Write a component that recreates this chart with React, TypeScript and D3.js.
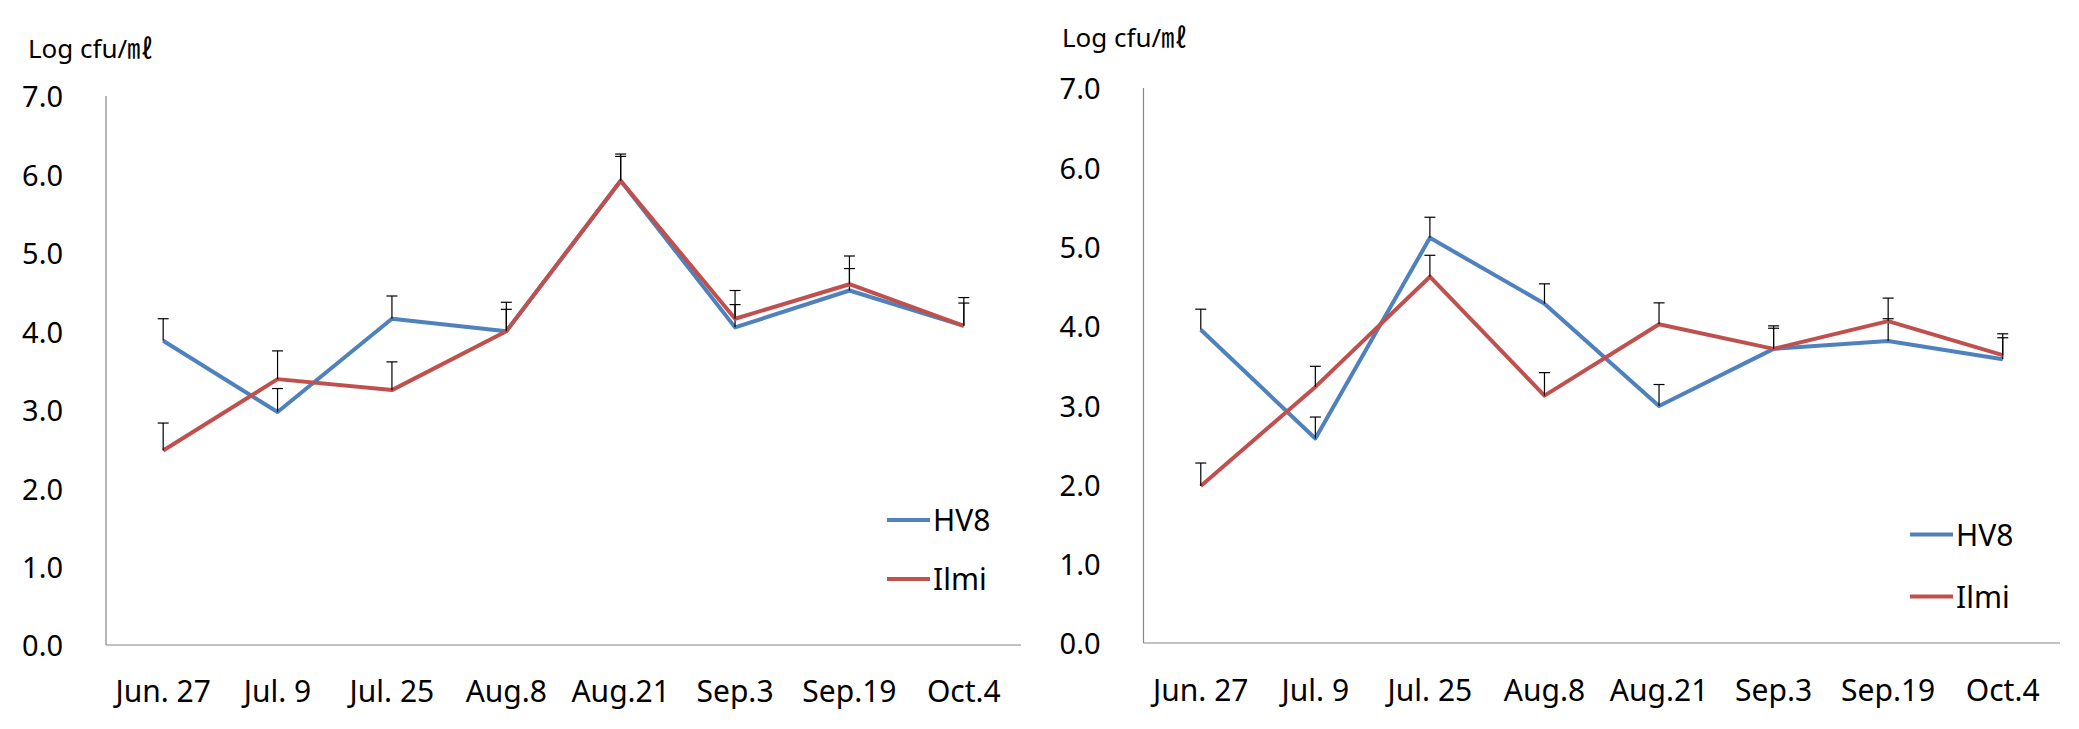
import React from "react";
import * as d3 from "d3";

const categories = ["Jun. 27", "Jul. 9", "Jul. 25", "Aug.8", "Aug.21", "Sep.3", "Sep.19", "Oct.4"];
const yTicks = [0, 1, 2, 3, 4, 5, 6, 7];
const seriesNames = ["HV8", "Ilmi"];
const seriesColors = ["#4F81BD", "#C0504D"];

// Left panel
const hv8Left = [3.88, 2.97, 4.16, 4.0, 5.92, 4.05, 4.52, 4.07];
const hv8LeftErr = [0.28, 0.3, 0.29, 0.37, 0.34, 0.29, 0.28, 0.36];
const ilmiLeft = [2.48, 3.39, 3.25, 4.0, 5.92, 4.16, 4.6, 4.07];
const ilmiLeftErr = [0.35, 0.36, 0.36, 0.28, 0.31, 0.36, 0.36, 0.29];

// Right panel
const hv8Right = [3.95, 2.58, 5.11, 4.28, 2.99, 3.71, 3.81, 3.58];
const hv8RightErr = [0.26, 0.27, 0.26, 0.25, 0.27, 0.29, 0.28, 0.27];
const ilmiRight = [1.98, 3.23, 4.62, 3.12, 4.02, 3.71, 4.06, 3.63];
const ilmiRightErr = [0.29, 0.26, 0.27, 0.29, 0.27, 0.26, 0.29, 0.27];

const FONT = "'Noto Sans', 'Noto Sans CJK KR', sans-serif";

type Layout = {
  x0: number; x1: number; yTop: number; yBottom: number;
  titleX: number; titleY: number; labelBaseline: number;
  legX: number; legY: number[];
};

function Panel({ layout, values, errs }: { layout: Layout; values: number[][]; errs: number[][] }) {
  const x = d3.scalePoint<string>().domain(categories).range([layout.x0, layout.x1]).padding(0.5);
  const y = d3.scaleLinear().domain([0, 7]).range([layout.yBottom, layout.yTop]);
  const line = d3
    .line<number>()
    .x((_, i) => x(categories[i]) as number)
    .y((d) => y(d));
  return (
    <g>
      <text x={layout.titleX} y={layout.titleY} fontSize={26} fontFamily={FONT} fill="#000">
        Log cfu/㎖
      </text>
      {yTicks.map((t) => (
        <text
          key={t}
          x={layout.x0 - 43}
          y={y(t) + 1}
          dy="0.36em"
          textAnchor="end"
          fontSize={29}
          fontFamily={FONT}
          fill="#000"
        >
          {t.toFixed(1)}
        </text>
      ))}
      <line x1={layout.x0} x2={layout.x0} y1={layout.yTop} y2={layout.yBottom} stroke="#868686" strokeWidth={1.2} />
      <line x1={layout.x0} x2={layout.x1} y1={layout.yBottom} y2={layout.yBottom} stroke="#868686" strokeWidth={1.2} />
      {categories.map((c) => (
        <text
          key={c}
          x={x(c) as number}
          y={layout.labelBaseline}
          textAnchor="middle"
          fontSize={30}
          fontFamily={FONT}
          fill="#000"
        >
          {c}
        </text>
      ))}
      {values.map((vals, si) => (
        <g key={si}>
          <path d={line(vals) || ""} fill="none" stroke={seriesColors[si]} strokeWidth={4} strokeLinejoin="round" />
          {vals.map((v, i) => {
            const cx = x(categories[i]) as number;
            const top = y(v + errs[si][i]);
            return (
              <g key={i} stroke="#000" strokeWidth={1.2}>
                <line x1={cx} x2={cx} y1={y(v)} y2={top} />
                <line x1={cx - 5.5} x2={cx + 5.5} y1={top} y2={top} />
              </g>
            );
          })}
        </g>
      ))}
      {seriesNames.map((n, si) => (
        <g key={n}>
          <line
            x1={layout.legX}
            x2={layout.legX + 43}
            y1={layout.legY[si]}
            y2={layout.legY[si]}
            stroke={seriesColors[si]}
            strokeWidth={4}
          />
          <text
            x={layout.legX + 46}
            y={layout.legY[si] + 11}
            fontSize={30}
            fontFamily={FONT}
            fill="#000"
          >
            {n}
          </text>
        </g>
      ))}
    </g>
  );
}

const leftLayout: Layout = {
  x0: 106, x1: 1021, yTop: 96, yBottom: 645,
  titleX: 28, titleY: 58, labelBaseline: 702,
  legX: 887, legY: [520, 579],
};
const rightLayout: Layout = {
  x0: 1143.5, x1: 2060, yTop: 88, yBottom: 643,
  titleX: 1062, titleY: 47, labelBaseline: 701,
  legX: 1910, legY: [534.5, 596.5],
};

export default function App() {
  return (
    <svg
      width={2079}
      height={729}
      style={{ position: "absolute", left: 0, top: 0, background: "#fff" }}
    >
      <rect width={2079} height={729} fill="#fff" />
      <Panel layout={leftLayout} values={[hv8Left, ilmiLeft]} errs={[hv8LeftErr, ilmiLeftErr]} />
      <Panel layout={rightLayout} values={[hv8Right, ilmiRight]} errs={[hv8RightErr, ilmiRightErr]} />
    </svg>
  );
}
